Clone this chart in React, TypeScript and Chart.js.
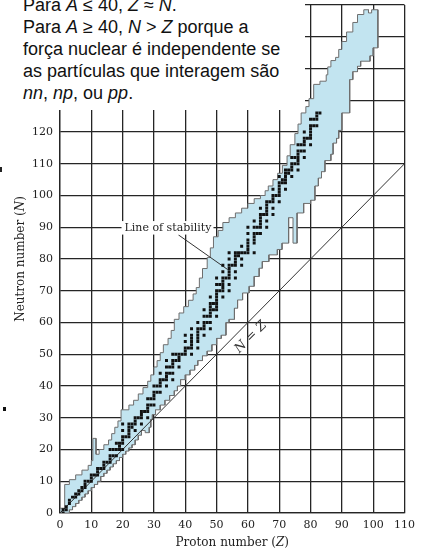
import React, { useEffect, useRef } from 'react';
import { Chart, registerables } from 'chart.js';

Chart.register(...registerables);

// ---- axis ticks ----
const xTickValues = [0, 10, 20, 30, 40, 50, 60, 70, 80, 90, 100, 110];
const yTickValues = [0, 10, 20, 30, 40, 50, 60, 70, 80, 90, 100, 110, 120, 130, 140, 150, 160];
const yLabelledMax = 120;

// ---- band of known nuclides: neutron-rich edge (from origin upward), [Z, N] ----
const bandNeutronRichEdge: number[][] = [
  [0, 0], [0, 1.5], [1.5, 1.5], [1.5, 9], [3, 9], [3, 10.5], [5, 10.5], [5, 12], [7, 12], [7, 13.5],
  [9, 13.5], [9, 15], [10, 15], [10, 16.5], [10.5, 16.5], [10.5, 23.5], [11.5, 23.5], [11.5, 18.5],
  [12.5, 18.5], [12.5, 20], [14, 20], [14, 21.5], [15.5, 21.5], [15.5, 23], [16.5, 23], [16.5, 25],
  [17.5, 25], [17.5, 27], [18.5, 27], [18.5, 29], [19.5, 29], [19.5, 32.5], [22, 32.5], [22, 34],
  [23.5, 34], [23.5, 35.5], [25, 35.5], [25, 37.5], [26.5, 37.5], [26.5, 39.5], [28, 39.5], [28, 41.5],
  [29, 41.5], [29, 43.5], [30, 43.5], [30, 46], [31, 46], [31, 48], [32, 48], [32, 50.5], [33, 50.5],
  [33, 53], [34.5, 53], [34.5, 55], [35.5, 55], [35.5, 57.5], [36.5, 57.5], [36.5, 61], [38, 61],
  [38, 63], [39.5, 63], [39.5, 65], [41, 65], [41, 67], [42.5, 67], [42.5, 69], [43.5, 69], [43.5, 71],
  [44.5, 71], [44.5, 74], [45.5, 74], [45.5, 77], [47, 77], [47, 80.5], [48, 80.5], [48, 83.5],
  [49, 83.5], [49, 87], [50.5, 87], [50.5, 89], [52, 89], [52, 91.5], [54, 91.5], [54, 93], [56, 93],
  [56, 94.5], [58, 94.5], [58, 96], [60, 96], [60, 97.5], [62, 97.5], [62, 99], [64, 99], [64, 100],
  [65.5, 100], [65.5, 101.5], [66.5, 101.5], [66.5, 103], [68, 103], [68, 105], [69.5, 105],
  [69.5, 107], [71, 107], [71, 109.5], [72.5, 109.5], [72.5, 112.5], [73.5, 112.5], [73.5, 116],
  [75, 116], [75, 119.5], [76, 119.5], [76, 122.5], [77, 122.5], [77, 126], [78.5, 126], [78.5, 128],
  [79.5, 128], [79.5, 130.5], [81, 130.5], [81, 135], [83, 135], [83, 136], [85, 136], [85, 138],
  [85.5, 138], [85.5, 140.5], [86.5, 140.5], [86.5, 142.5], [88, 142.5], [88, 143.5], [89, 143.5],
  [89, 146], [90, 146], [90, 148.5], [91.5, 148.5], [91.5, 151.5], [93.5, 151.5], [93.5, 154.5],
  [95, 154.5], [95, 157], [97, 157], [97, 158.5], [98.5, 158.5], [98.5, 157.5], [99.5, 157.5],
  [99.5, 158.5], [101.5, 158.5],
];

// ---- band: proton-rich edge (from the top back down to origin), [Z, N] ----
const bandProtonRichEdge: number[][] = [
  [101.5, 146.5], [100, 146.5], [100, 144], [99, 144], [99, 142.3], [96, 142.3], [96, 140.7],
  [95, 140.7], [95, 139], [93.5, 139], [93.5, 136.5], [92.5, 136.5], [92.5, 126], [90, 126],
  [90, 120.5], [89, 120.5], [89, 118], [88.3, 118], [88.3, 116.5], [87.2, 116.5], [87.2, 113],
  [86.5, 113], [86.5, 111], [84.6, 111], [84.6, 107.5], [83.5, 107.5], [83.5, 105.5], [82.5, 105.5],
  [82.5, 103], [81.4, 103], [81.4, 98.5], [80, 98.5], [80, 97.5], [77.8, 97.5], [77.8, 94.5],
  [75.7, 94.5], [75.7, 85], [74.4, 85], [74.4, 93], [73, 93], [73, 85], [70.9, 85], [70.9, 83],
  [69.4, 83], [69.4, 81.3], [66.7, 81.3], [66.7, 79.2], [64.6, 79.2], [64.6, 77.1], [63.6, 77.1],
  [63.6, 74.5], [62, 74.5], [62, 71.4], [60.4, 71.4], [60.4, 69.3], [58.3, 69.3], [58.3, 67.1],
  [56.7, 67.1], [56.7, 64.5], [55.7, 64.5], [55.7, 61], [54, 61], [54, 60], [53, 60], [53, 56],
  [51.5, 56], [51.5, 55], [50, 55], [50, 53], [48.5, 53], [48.5, 51], [47, 51], [47, 49.5],
  [45.5, 49.5], [45.5, 48], [44, 48], [44, 46.5], [43, 46.5], [43, 45], [41.5, 45], [41.5, 43.5],
  [40, 43.5], [40, 42], [38.5, 42], [38.5, 40], [37.5, 40], [37.5, 38.5], [36.5, 38.5], [36.5, 37],
  [35, 37], [35, 35.5], [33.5, 35.5], [33.5, 34], [32, 34], [32, 32.5], [30.5, 32.5], [30.5, 31],
  [29.5, 31], [29.5, 29.5], [29, 29.5], [29, 27], [28.5, 27], [28.5, 25.3], [27.2, 25.3], [27.2, 26],
  [26, 26], [26, 24.5], [25, 24.5], [25, 23], [24, 23], [24, 21.5], [23, 21.5], [23, 20.5], [22, 20.5],
  [22, 19.5], [21, 19.5], [21, 18.5], [20, 18.5], [20, 17.5], [19, 17.5], [19, 16.5], [18, 16.5],
  [18, 15.5], [17, 15.5], [17, 14.5], [16, 14.5], [16, 13.5], [15, 13.5], [15, 12.5], [14, 12.5],
  [14, 11.5], [13, 11.5], [13, 10], [12, 10], [12, 9], [11, 9], [11, 8], [10, 8], [10, 7], [9, 7],
  [9, 6], [8, 6], [8, 5], [7, 5], [7, 4], [6, 4], [6, 3], [5, 3], [5, 2], [4, 2], [4, 1], [3, 1],
  [3, 0], [0, 0],
];

// ---- stable nuclides: neutron numbers N for each proton number Z (index = Z) ----
const stableNeutrons: number[][] = [
  [],
  [0, 1], [1, 2], [3, 4], [5], [5, 6], [6, 7], [7, 8], [8, 9, 10], [10], [10, 11, 12],
  [12], [12, 13, 14], [14], [14, 15, 16], [16], [16, 17, 18, 20], [18, 20], [18, 20, 22], [20, 21, 22],
  [20, 22, 23, 24, 26, 28], [24], [24, 25, 26, 27, 28], [27, 28], [26, 28, 29, 30], [30], [28, 30, 31, 32],
  [32], [30, 32, 33, 34, 36], [34, 36], [34, 36, 37, 38, 40], [38, 40], [38, 40, 41, 42, 44], [42],
  [40, 42, 43, 44, 46, 48], [44, 46], [42, 44, 46, 47, 48, 50], [48, 50], [46, 48, 49, 50], [50],
  [50, 51, 52, 54, 56], [52], [50, 52, 53, 54, 55, 56, 58], [], [52, 54, 55, 56, 57, 58, 60], [58],
  [56, 58, 59, 60, 62, 64], [60, 62], [58, 60, 62, 63, 64, 65, 66, 68], [64, 66],
  [62, 64, 65, 66, 67, 68, 69, 70, 72, 74], [70, 72], [68, 70, 71, 72, 73, 74, 76, 78], [74],
  [70, 72, 74, 75, 76, 77, 78, 80, 82], [78], [74, 76, 78, 79, 80, 81, 82], [81, 82], [78, 80, 82, 84],
  [82], [82, 83, 84, 85, 86, 88, 90], [], [82, 85, 86, 87, 88, 90, 92], [88, 90],
  [88, 90, 91, 92, 93, 94, 96], [94], [90, 92, 94, 95, 96, 97, 98], [98], [94, 96, 98, 99, 100, 102],
  [100], [98, 100, 101, 102, 103, 104, 106], [104, 105], [102, 104, 105, 106, 107, 108], [107, 108],
  [106, 108, 109, 110, 112], [110, 112], [108, 110, 111, 112, 113, 114, 116], [114, 116],
  [112, 114, 116, 117, 118, 120], [118], [116, 118, 119, 120, 121, 122, 124], [122, 124],
  [122, 124, 125, 126], [126],
];

// ---- reference line N = Z and annotation anchors (data coordinates) ----
const nEqualsZLine: number[][] = [[0, 0], [110, 110]];
const stabilityLeader: number[][] = [[37.8, 87.6], [53.5, 76.7]];
const stabilityLabel = { text: 'Line of stability', z: 20.6, n: 89.9 };
const nzLabel = { z: 60.9, n: 55.4 };

const toXY = (pts: number[][]) => pts.map(([x, y]) => ({ x, y }));

const SERIF = '"DejaVu Serif", serif';
const GRID = '#252525';
const INK = '#222';

type Part = { t: string; it?: boolean };
const xTitleParts: Part[] = [{ t: 'Proton number (' }, { t: 'Z', it: true }, { t: ')' }];
const yTitleParts: Part[] = [{ t: 'Neutron number (' }, { t: 'N', it: true }, { t: ')' }];
const nzParts: Part[] = [{ t: 'N', it: true }, { t: ' = ' }, { t: 'Z', it: true }];

function drawParts(ctx: CanvasRenderingContext2D, parts: Part[], size: number) {
  let total = 0;
  const widths = parts.map((p) => {
    ctx.font = `${p.it ? 'italic ' : ''}${size}px ${SERIF}`;
    const w = ctx.measureText(p.t).width;
    total += w;
    return w;
  });
  let cx = -total / 2;
  parts.forEach((p, i) => {
    ctx.font = `${p.it ? 'italic ' : ''}${size}px ${SERIF}`;
    ctx.fillText(p.t, cx, 0);
    cx += widths[i];
  });
}

const annotationPlugin = {
  id: 'annotations',
  afterDatasetsDraw(chart: any) {
    const { ctx, scales, chartArea } = chart;
    const xs = scales.x;
    const ys = scales.y;
    ctx.save();
    ctx.textBaseline = 'middle';
    ctx.textAlign = 'left';

    // Line of stability label with white background
    ctx.font = `11px ${SERIF}`;
    const lx = xs.getPixelForValue(stabilityLabel.z);
    const ly = ys.getPixelForValue(stabilityLabel.n);
    const w = ctx.measureText(stabilityLabel.text).width;
    ctx.fillStyle = '#ffffff';
    ctx.fillRect(lx - 3, ly - 6.5, w + 5, 13.5);
    ctx.fillStyle = INK;
    ctx.fillText(stabilityLabel.text, lx, ly + 0.5);

    // N = Z rotated label
    ctx.save();
    ctx.translate(xs.getPixelForValue(nzLabel.z), ys.getPixelForValue(nzLabel.n));
    ctx.rotate(-Math.PI / 4);
    ctx.fillStyle = '#333';
    drawParts(ctx, nzParts, 13);
    ctx.restore();

    // axis titles (with italic symbols)
    ctx.save();
    ctx.fillStyle = INK;
    ctx.translate((chartArea.left + chartArea.right) / 2, 543);
    drawParts(ctx, xTitleParts, 12);
    ctx.restore();

    ctx.save();
    ctx.fillStyle = INK;
    ctx.translate(21, (chartArea.top + chartArea.bottom) / 2);
    ctx.rotate(-Math.PI / 2);
    drawParts(ctx, yTitleParts, 12);
    ctx.restore();

    ctx.restore();
  },
};

function NuclideChart() {
  const ref = useRef<HTMLCanvasElement | null>(null);

  useEffect(() => {
    if (!ref.current) return;
    const dots: { x: number; y: number }[] = [];
    stableNeutrons.forEach((ns, z) => ns.forEach((n) => dots.push({ x: z, y: n })));

    const chart = new Chart(ref.current, {
      type: 'line',
      data: {
        datasets: [
          {
            label: 'stable',
            data: dots,
            showLine: false,
            pointStyle: 'rect',
            pointRadius: 2.1,
            pointBackgroundColor: '#111',
            pointBorderWidth: 0,
            order: 0,
          } as any,
          {
            label: 'N=Z',
            data: toXY(nEqualsZLine),
            borderColor: '#333',
            borderWidth: 1,
            pointRadius: 0,
            fill: false,
            order: 1,
          },
          {
            label: 'leader',
            data: toXY(stabilityLeader),
            borderColor: '#333',
            borderWidth: 1,
            pointRadius: 0,
            fill: false,
            order: 1,
          },
          {
            label: 'band',
            data: toXY([...bandNeutronRichEdge, ...bandProtonRichEdge]),
            borderColor: '#6e6e6e',
            borderWidth: 1,
            backgroundColor: '#c2e4f0',
            fill: 'shape',
            pointRadius: 0,
            tension: 0,
            order: 3,
          } as any,
        ],
      },
      options: {
        responsive: false,
        animation: false,
        devicePixelRatio: 1,
        events: [],
        layout: { padding: { top: 5, right: 12, left: 0, bottom: 0 } },
        plugins: {
          legend: { display: false },
          tooltip: { enabled: false },
        },
        scales: {
          x: {
            type: 'linear',
            min: 0,
            max: 110,
            afterBuildTicks: (s: any) => {
              s.ticks = xTickValues.map((v) => ({ value: v }));
            },
            afterFit: (s: any) => {
              s.height = 40;
            },
            ticks: {
              autoSkip: false,
              maxRotation: 0,
              padding: 6,
              color: INK,
              font: { family: SERIF, size: 11 },
              callback: (v: any) => String(v),
            },
            grid: { color: GRID, lineWidth: 1.3, drawTicks: false },
            border: { color: GRID, width: 1.3 },
          },
          y: {
            type: 'linear',
            min: 0,
            max: 160,
            afterBuildTicks: (s: any) => {
              s.ticks = yTickValues.map((v) => ({ value: v }));
            },
            afterFit: (s: any) => {
              s.width = 60;
              s.paddingTop = 0;
              s.paddingBottom = 0;
            },
            ticks: {
              autoSkip: false,
              padding: 7,
              color: INK,
              font: { family: SERIF, size: 11 },
              callback: (v: any) => (Number(v) <= yLabelledMax ? String(v) : ''),
            },
            grid: { color: GRID, lineWidth: 1.3, drawTicks: false },
            border: { color: GRID, width: 1.3 },
          },
        },
      },
      plugins: [annotationPlugin],
    } as any);
    return () => chart.destroy();
  }, []);

  return <canvas ref={ref} width={421} height={553} style={{ display: 'block', width: 421, height: 553 }} />;
}

export default function App() {
  const textStyle: React.CSSProperties = {
    position: 'absolute',
    left: 23,
    top: -4.6,
    font: '18px "Liberation Sans", Arial, sans-serif',
    lineHeight: '21.8px',
    color: '#111',
    whiteSpace: 'nowrap',
  };
  return (
    <div style={{ position: 'fixed', left: 0, top: 0, width: 421, height: 553, background: '#fff', overflow: 'hidden' }}>
      <NuclideChart />
      <div style={{ position: 'absolute', left: 0, top: 0, width: 305, height: 110, background: '#fff', overflow: 'hidden' }}>
        <div style={textStyle}>
          <div>Para <i>A</i> ≤ 40, <i>Z</i> ≈ <i>N</i>.</div>
          <div>Para <i>A</i> ≥ 40, <i>N</i> &gt; <i>Z</i> porque a</div>
          <div>força nuclear é independente se</div>
          <div>as partículas que interagem são</div>
          <div><i>nn</i>, <i>np</i>, ou <i>pp</i>.</div>
        </div>
      </div>
      <div style={{ position: 'absolute', left: 0, top: 167, width: 2, height: 5, background: '#222' }} />
      <div style={{ position: 'absolute', left: 3, top: 407, width: 3, height: 4, background: '#111' }} />
    </div>
  );
}
